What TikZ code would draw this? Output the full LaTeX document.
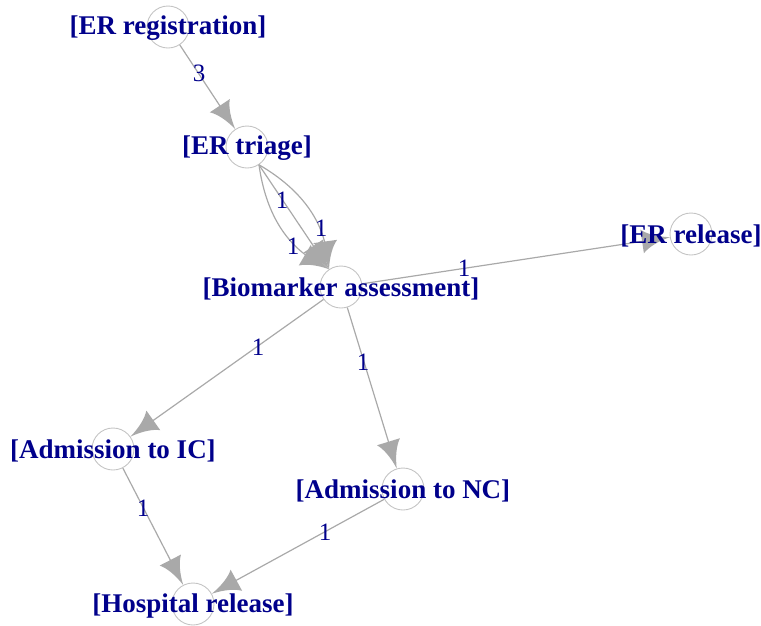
\documentclass[tikz,border=0pt]{standalone}
\usepackage{fontspec}
\setmainfont{Liberation Serif}
\usetikzlibrary{arrows.meta}
\definecolor{labc}{HTML}{00008B}
\definecolor{edgec}{HTML}{A9A9A9}
\definecolor{vertc}{HTML}{C4C4C4}
\pgfdeclarearrow{
  name = IG,
  parameters = {\the\pgfarrowlength,\the\pgfarrowwidth},
  setup code = {
    \pgfarrowssettipend{0pt}
    \pgfarrowssetlineend{-0.6\pgfarrowlength}
    \pgfarrowssetvisualbackend{-\pgfarrowlength}
    \pgfarrowssetbackend{-\pgfarrowlength}
    \pgfarrowsupperhullpoint{0pt}{0pt}
    \pgfarrowsupperhullpoint{-\pgfarrowlength}{0.5\pgfarrowwidth}
    \pgfarrowssavethe\pgfarrowlength
    \pgfarrowssavethe\pgfarrowwidth
  },
  drawing code = {
    \pgfpathmoveto{\pgfqpoint{0pt}{0pt}}
    \pgfpathcurveto{\pgfqpoint{-0.45\pgfarrowlength}{0.10\pgfarrowwidth}}{\pgfqpoint{-0.8\pgfarrowlength}{0.28\pgfarrowwidth}}{\pgfqpoint{-\pgfarrowlength}{0.5\pgfarrowwidth}}
    \pgfpathlineto{\pgfqpoint{-\pgfarrowlength}{-0.5\pgfarrowwidth}}
    \pgfpathcurveto{\pgfqpoint{-0.8\pgfarrowlength}{-0.28\pgfarrowwidth}}{\pgfqpoint{-0.45\pgfarrowlength}{-0.10\pgfarrowwidth}}{\pgfqpoint{0pt}{0pt}}
    \pgfpathclose
    \pgfusepathqfill
  },
  defaults = {length = 28pt, width = 24pt}
}
\begin{document}
\begin{tikzpicture}[x=1pt,y=-1pt,
  vert/.style={circle,draw=vertc,line width=0.9pt,minimum size=42pt,inner sep=0pt},
  vlabel/.style={text=labc,inner sep=0pt,yshift=-1.5pt,font=\fontsize{27}{29}\selectfont\bfseries},
  elabel/.style={text=labc,inner sep=0pt,font=\fontsize{25}{27}\selectfont},
  edge/.style={draw=edgec,line width=1.2pt,-{IG[length=28pt,width=24pt,fill=edgec]}}
]
\useasboundingbox (0,0) rectangle (761,625);
% vertices
\node[vert] (reg) at (168,27) {};
\node[vert] (tri) at (247,147) {};
\node[vert] (bio) at (341,287) {};
\node[vert] (rel) at (691,234) {};
\node[vert] (ic)  at (113,449) {};
\node[vert] (nc)  at (403,489) {};
\node[vert] (hos) at (193,604) {};
% edges
\draw[edge] (reg) -- (tri);
\draw[edge] (tri) -- (bio);
\draw[edge] (tri.-56) to[bend left=26] (bio.124);
\draw[edge] (tri.-56) to[bend right=26] (bio.124);
\draw[edge] (bio) -- (rel);
\draw[edge] (bio) -- (ic);
\draw[edge] (bio) -- (nc);
\draw[edge] (ic) -- (hos);
\draw[edge] (nc) -- (hos);
% edge labels
\node[elabel] (l1) at (199,73) {3};
\node[elabel] (l2) at (282,200) {1};
\node[elabel] (l3) at (321,228) {1};
\node[elabel] (l4) at (293,246) {1};
\node[elabel] (l5) at (464,268) {1};
\node[elabel] (l6) at (258,347) {1};
\node[elabel] (l7) at (363,362) {1};
\node[elabel] (l8) at (143,508) {1};
\node[elabel] (l9) at (325,532) {1};
% vertex labels
\node[vlabel] (treg) at (reg) {[ER registration]};
\node[vlabel] (ttri) at (tri) {[ER triage]};
\node[vlabel] (tbio) at (bio) {[Biomarker assessment]};
\node[vlabel] (trel) at (rel) {[ER release]};
\node[vlabel] (tic)  at (ic)  {[Admission to IC]};
\node[vlabel] (tnc)  at (nc)  {[Admission to NC]};
\node[vlabel] (thos) at (hos) {[Hospital release]};
\end{tikzpicture}
\end{document}
